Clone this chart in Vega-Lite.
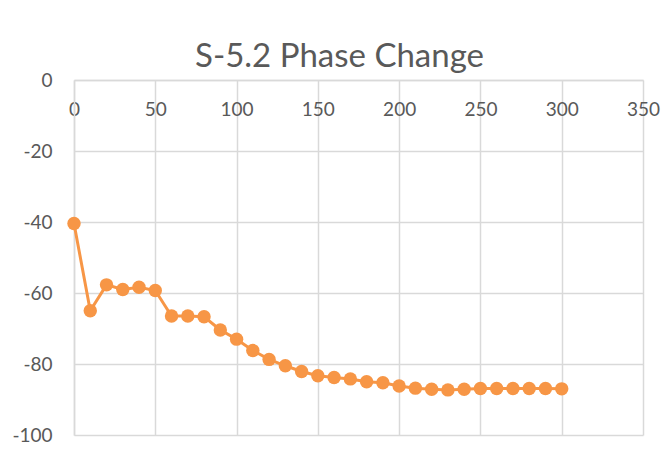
{
  "$schema": "https://vega.github.io/schema/vega-lite/v6.json",
  "width": 569,
  "height": 355,
  "autosize": {"type": "none"},
  "padding": {"left": 74, "top": 80, "right": 21, "bottom": 28},
  "background": "white",
  "title": {"text": "S-5.2 Phase Change", "fontSize": 33, "font": "Lato", "fontWeight": "normal", "color": "#595959", "anchor": "middle", "offset": -3, "dx": -19},
  "data": {"values": [
    {"x": 0, "y": -40.4}, {"x": 10, "y": -65.0}, {"x": 20, "y": -57.7}, {"x": 30, "y": -59.0},
    {"x": 40, "y": -58.4}, {"x": 50, "y": -59.3}, {"x": 60, "y": -66.5}, {"x": 70, "y": -66.5},
    {"x": 80, "y": -66.7}, {"x": 90, "y": -70.4}, {"x": 100, "y": -73.0}, {"x": 110, "y": -76.2},
    {"x": 120, "y": -78.7}, {"x": 130, "y": -80.5}, {"x": 140, "y": -82.1}, {"x": 150, "y": -83.3},
    {"x": 160, "y": -83.8}, {"x": 170, "y": -84.2}, {"x": 180, "y": -85.0}, {"x": 190, "y": -85.3},
    {"x": 200, "y": -86.2}, {"x": 210, "y": -86.8}, {"x": 220, "y": -87.1}, {"x": 230, "y": -87.3},
    {"x": 240, "y": -87.1}, {"x": 250, "y": -86.9}, {"x": 260, "y": -86.9}, {"x": 270, "y": -86.9},
    {"x": 280, "y": -86.9}, {"x": 290, "y": -86.9}, {"x": 300, "y": -87.0}
  ]},
  "encoding": {
    "x": {"field": "x", "type": "quantitative",
      "scale": {"domain": [0, 350], "nice": false, "zero": false},
      "axis": {"orient": "bottom", "offset": -355, "title": null, "values": [0, 50, 100, 150, 200, 250, 300, 350],
        "ticks": false, "labelPadding": 20, "labelFontSize": 19, "labelFont": "Lato", "labelColor": "#595959",
        "domainColor": "#d9d9d9", "domainWidth": 1.5, "gridColor": "#d9d9d9", "gridWidth": 1.5, "labelFlush": false}},
    "y": {"field": "y", "type": "quantitative",
      "scale": {"domain": [-100, 0], "nice": false},
      "axis": {"title": null, "values": [-100, -80, -60, -40, -20, 0], "ticks": false, "labelPadding": 22,
        "labelExpr": "'' + datum.value",
        "labelFontSize": 19, "labelFont": "Lato", "labelColor": "#595959",
        "domainColor": "#d9d9d9", "domainWidth": 1.5, "gridColor": "#d9d9d9", "gridWidth": 1.5, "labelFlush": false}}
  },
  "layer": [
    {"mark": {"type": "line", "color": "#F79646", "strokeWidth": 3}},
    {"mark": {"type": "point", "filled": true, "color": "#F79646", "opacity": 1, "size": 180}}
  ],
  "config": {"view": {"stroke": null}}
}
